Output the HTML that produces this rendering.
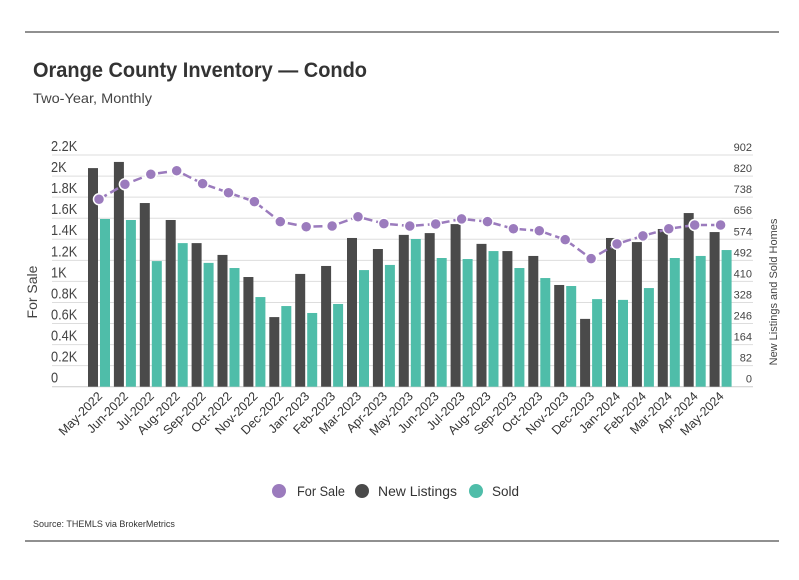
<!DOCTYPE html>
<html><head><meta charset="utf-8"><style>
body{margin:0;background:#fff;font-family:"Liberation Sans",sans-serif;}
svg text{font-family:"Liberation Sans",sans-serif;}
</style></head><body>
<svg id="c" width="799" height="575" xmlns="http://www.w3.org/2000/svg">
<line x1="25" y1="32" x2="779" y2="32" stroke="#222" stroke-width="1"/>
<line x1="25" y1="541" x2="779" y2="541" stroke="#222" stroke-width="1"/>
<text x="33" y="77" font-size="21" font-weight="bold" fill="#333" textLength="334" lengthAdjust="spacingAndGlyphs">Orange County Inventory — Condo</text>
<text x="33" y="103" font-size="14" fill="#444" textLength="119" lengthAdjust="spacingAndGlyphs">Two-Year, Monthly</text>
<text x="33" y="527" font-size="9" fill="#333">Source:  THEMLS via BrokerMetrics</text>
<text transform="translate(37,292) rotate(-90)" text-anchor="middle" font-size="14" fill="#444">For Sale</text>
<text transform="translate(777,292) rotate(-90)" text-anchor="middle" font-size="11" fill="#444">New Listings and Sold Homes</text>
<g id="grid"></g><g id="bars"></g><g id="line"></g><g id="xl"></g>
<g>
<g><circle cx="279" cy="491" r="7" fill="#9b7bbd"/><text x="297" y="496" font-size="14" fill="#333" textLength="48" lengthAdjust="spacingAndGlyphs">For Sale</text></g>
<g><circle cx="362" cy="491" r="7" fill="#4a4a4a"/><text x="378" y="496" font-size="14" fill="#333" textLength="79" lengthAdjust="spacingAndGlyphs">New Listings</text></g>
<g><circle cx="476" cy="491" r="7" fill="#4fbda9"/><text x="492" y="496" font-size="14" fill="#333" textLength="27" lengthAdjust="spacingAndGlyphs">Sold</text></g>
</g>
</svg>
<script>
const categories=["May-2022","Jun-2022","Jul-2022","Aug-2022","Sep-2022","Oct-2022","Nov-2022","Dec-2022","Jan-2023","Feb-2023","Mar-2023","Apr-2023","May-2023","Jun-2023","Jul-2023","Aug-2023","Sep-2023","Oct-2023","Nov-2023","Dec-2023","Jan-2024","Feb-2024","Mar-2024","Apr-2024","May-2024"];
const newListings=[851,875,715,649,559,513,427,271,439,470,579,536,591,598,633,556,528,509,396,264,579,563,614,676,602];
const sold=[653,649,489,559,482,462,349,314,287,322,454,474,575,501,497,528,462,423,392,341,338,384,501,509,532];
const forSale=[1780,1922,2017,2051,1928,1842,1757,1567,1519,1526,1614,1548,1526,1545,1593,1567,1500,1481,1396,1216,1356,1432,1500,1535,1535];
const leftTicks=["0","0.2K","0.4K","0.6K","0.8K","1K","1.2K","1.4K","1.6K","1.8K","2K","2.2K"];
const rightTicks=["0","82","164","246","328","410","492","574","656","738","820","902"];
const NS="http://www.w3.org/2000/svg";
const baseY=386.7,topY=155,leftMax=2200,rightMax=902;
const yL=v=>baseY-(v/leftMax)*(baseY-topY);
const yR=v=>baseY-(v/rightMax)*(baseY-topY);
const xC=i=>99+i*25.9;
function mk(t,a,p){const e=document.createElementNS(NS,t);for(const k in a)e.setAttribute(k,a[k]);p.appendChild(e);return e;}
const g=document.getElementById('grid');
leftTicks.forEach((t,i)=>{const y=baseY-i*(baseY-topY)/11;
const l=mk('line',{x1:52,x2:753,y1:y,y2:y,stroke:i===0?'#ccc':'#ddd','stroke-width':1},g);


const a=mk('text',{x:51,y:y-4,'font-size':15,fill:'#444',transform:`translate(51,0) scale(0.85,1) translate(-51,0)`},g);a.textContent=t;


const b=mk('text',{x:752,y:y-4,'font-size':11,fill:'#444','text-anchor':'end'},g);b.textContent=rightTicks[i];

});
const bg=document.getElementById('bars');
const xl=document.getElementById('xl');
categories.forEach((c,i)=>{
const r1=mk('rect',{x:xC(i)-11,y:yR(newListings[i]),width:10,height:baseY-yR(newListings[i]),fill:'#4a4a4a'},bg);


const r2=mk('rect',{x:xC(i)+1,y:yR(sold[i]),width:10,height:baseY-yR(sold[i]),fill:'#4fbda9'},bg);


const t=mk('text',{transform:`translate(${xC(i)+4},397) rotate(-45)`,'font-size':12.5,fill:'#333','text-anchor':'end'},xl);t.textContent=c;

});
const lg=document.getElementById('line');
const pl=mk('polyline',{points:forSale.map((v,i)=>xC(i)+','+yL(v)).join(' '),fill:'none',stroke:'#9b7bbd','stroke-width':2.5,'stroke-dasharray':'9,4'},lg);


forSale.forEach((v,i)=>{const p=mk('circle',{cx:xC(i),cy:yL(v),r:5.5,fill:'#9b7bbd',stroke:'#fff','stroke-width':1.5},lg);

});
</script>
</body></html>
